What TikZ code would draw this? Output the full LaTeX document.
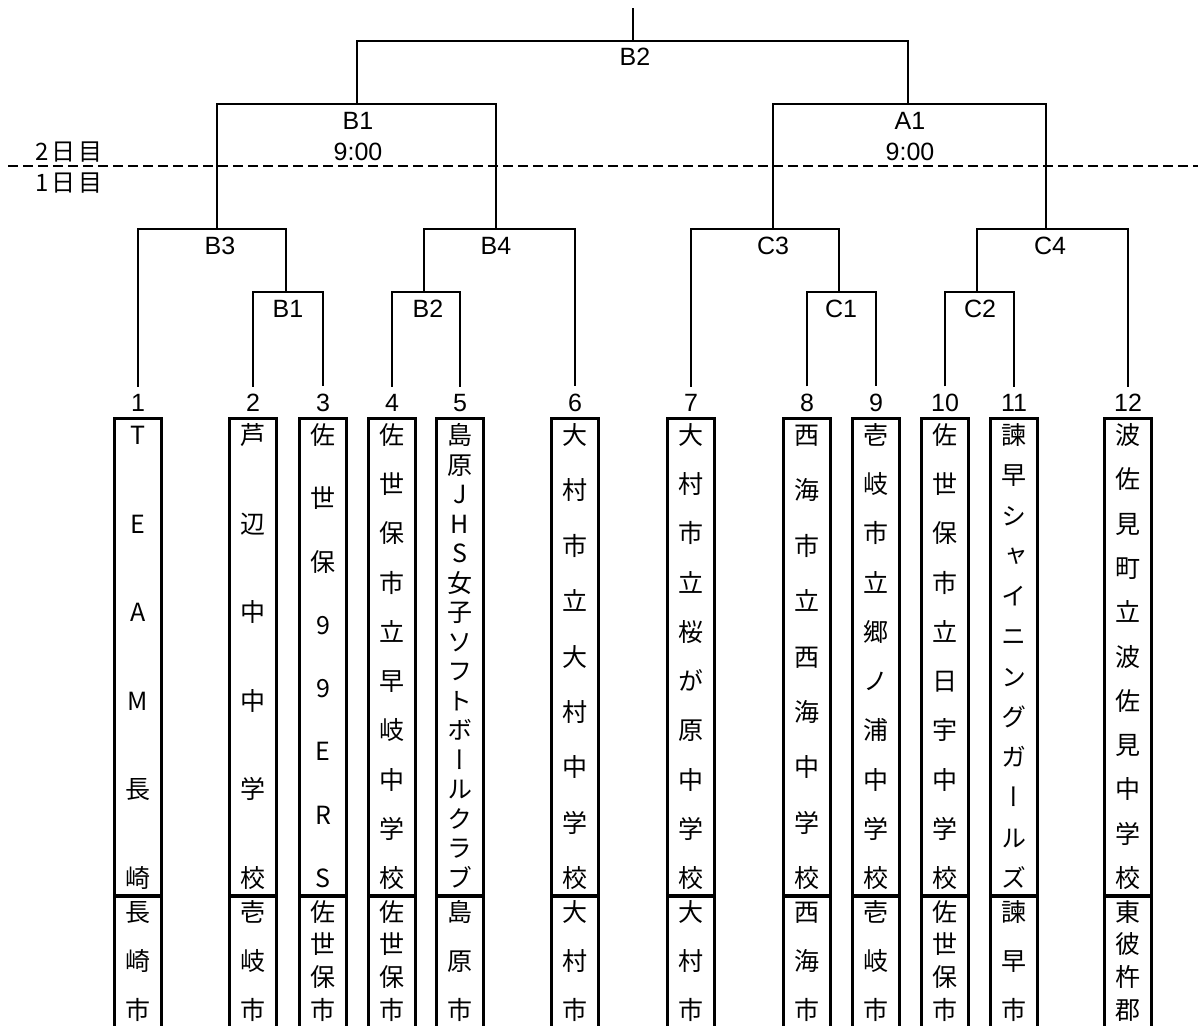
\documentclass[tikz,border=0pt]{standalone}
\usepackage{fontspec}
\setmainfont{Liberation Sans}
\newfontfamily\jpfont{Noto Sans CJK JP}
\newfontfamily\jpvfont[RawFeature=+vert]{Noto Sans CJK JP}
% vertical text spread over a given height, optional space below
\newcommand{\tate}[3][0pt]{\parbox[c][\dimexpr#2+#1\relax][s]{30pt}{\centering
  \jpvfont\fontsize{25}{25}\selectfont
  \foreach \ch [count=\k] in {#3}{\ifnum\k>1 \vfill\fi\rule[-0.12em]{0pt}{1em}\ch\par}%
  \vspace*{#1}}}

\begin{document}
\begin{tikzpicture}[x=1pt,y=-1pt,
  line/.style={line width=2pt},
  teambox/.style={draw,line width=3pt,minimum width=47pt,inner xsep=0pt,inner ysep=4.5pt},
  citybox/.style={draw,line width=3pt,minimum width=47pt,inner xsep=0pt,inner ysep=2.5pt,anchor=north},
  num/.style={font=\fontsize{25}{25}\selectfont,inner xsep=0pt,inner ysep=7.5pt},
  match/.style={font=\fontsize{25}{25}\selectfont,inner sep=0pt},
  day/.style={font=\jpfont\fontsize{24}{24}\selectfont,inner sep=0pt}]
  \useasboundingbox (0,0) rectangle (1198,1025);
  \clip (0,0) rectangle (1198,1025);

  % day border
  \coordinate (dl) at (8,166);
  \coordinate (dr) at (1198,166);
  \draw[line,dash pattern=on 10pt off 5pt] (dl) -- (dr);
  \node[day] (d2) at (69,152) {2\kern3pt 日\kern3pt 目};
  \node[day] (d1) at (69,183) {1\kern3pt 日\kern3pt 目};

  % team numbers
  \node[num] (n1) at (138,403) {1};
  \node[num] (n2) at (253,403) {2};
  \node[num] (n3) at (323,403) {3};
  \node[num] (n4) at (392,403) {4};
  \node[num] (n5) at (460,403) {5};
  \node[num] (n6) at (575,403) {6};
  \node[num] (n7) at (691,403) {7};
  \node[num] (n8) at (807,403) {8};
  \node[num] (n9) at (876,403) {9};
  \node[num] (n10) at (945,403) {10};
  \node[num] (n11) at (1014,403) {11};
  \node[num] (n12) at (1128,403) {12};

  % teams
  \node[teambox] (t1) at (138,656.5) {\tate{468pt}{T,E,A,M,長,崎}};
  \node[teambox] (t2) at (253,656.5) {\tate{468pt}{芦,辺,中,中,学,校}};
  \node[teambox] (t3) at (323,656.5) {\tate{468pt}{佐,世,保,9,9,E,R,S}};
  \node[teambox] (t4) at (392,656.5) {\tate{468pt}{佐,世,保,市,立,早,岐,中,学,校}};
  \node[teambox] (t5) at (460,656.5) {\tate{468pt}{島,原,J,H,S,女,子,ソ,フ,ト,ボ,ー,ル,ク,ラ,ブ}};
  \node[teambox] (t6) at (575,656.5) {\tate{468pt}{大,村,市,立,大,村,中,学,校}};
  \node[teambox] (t7) at (691,656.5) {\tate{468pt}{大,村,市,立,桜,が,原,中,学,校}};
  \node[teambox] (t8) at (807,656.5) {\tate{468pt}{西,海,市,立,西,海,中,学,校}};
  \node[teambox] (t9) at (876,656.5) {\tate{468pt}{壱,岐,市,立,郷,ノ,浦,中,学,校}};
  \node[teambox] (t10) at (945,656.5) {\tate{468pt}{佐,世,保,市,立,日,宇,中,学,校}};
  \node[teambox] (t11) at (1014,656.5) {\tate{468pt}{諫,早,シ,ャ,イ,ニ,ン,グ,ガ,ー,ル,ズ}};
  \node[teambox] (t12) at (1128,656.5) {\tate{468pt}{波,佐,見,町,立,波,佐,見,中,学,校}};

  % home towns
  \node[citybox] (c1) at (138,895) {\tate[40pt]{123pt}{長,崎,市}};
  \node[citybox] (c2) at (253,895) {\tate[40pt]{123pt}{壱,岐,市}};
  \node[citybox] (c3) at (323,895) {\tate[40pt]{123pt}{佐,世,保,市}};
  \node[citybox] (c4) at (392,895) {\tate[40pt]{123pt}{佐,世,保,市}};
  \node[citybox] (c5) at (460,895) {\tate[40pt]{123pt}{島,原,市}};
  \node[citybox] (c6) at (575,895) {\tate[40pt]{123pt}{大,村,市}};
  \node[citybox] (c7) at (691,895) {\tate[40pt]{123pt}{大,村,市}};
  \node[citybox] (c8) at (807,895) {\tate[40pt]{123pt}{西,海,市}};
  \node[citybox] (c9) at (876,895) {\tate[40pt]{123pt}{壱,岐,市}};
  \node[citybox] (c10) at (945,895) {\tate[40pt]{123pt}{佐,世,保,市}};
  \node[citybox] (c11) at (1014,895) {\tate[40pt]{123pt}{諫,早,市}};
  \node[citybox] (c12) at (1128,895) {\tate[40pt]{123pt}{東,彼,杵,郡}};

  % match labels
  \node[match] (mB2) at (635,57) {B2};
  \node[match] (mB1) at (358,121) {B1};
  \node[match] (tB1) at (358,152) {9:00};
  \node[match] (mA1) at (910,121) {A1};
  \node[match] (tA1) at (910,152) {9:00};
  \node[match] (mB3) at (220,246) {B3};
  \node[match] (mB4) at (496,246) {B4};
  \node[match] (mC3) at (773,246) {C3};
  \node[match] (mC4) at (1050,246) {C4};
  \node[match] (mB1a) at (288,309) {B1};
  \node[match] (mB2a) at (428,309) {B2};
  \node[match] (mC1) at (841,309) {C1};
  \node[match] (mC2) at (980,309) {C2};

  % bracket junctions
  \coordinate (jEnd) at (633,8);
  \coordinate (jTop) at (633,41);
  \coordinate (jB1) at (357,104);
  \coordinate (jA1) at (908,104);
  \coordinate (jB3) at (217,229);
  \coordinate (jB4) at (496,229);
  \coordinate (jC3) at (773,229);
  \coordinate (jC4) at (1046,229);
  \coordinate (jB1a) at (286,292);
  \coordinate (jB2a) at (424,292);
  \coordinate (jC1) at (839,292);
  \coordinate (jC2) at (977,292);

  % brackets
  \draw[line] (n2) |- (jB1a) -| (n3);
  \draw[line] (n4) |- (jB2a) -| (n5);
  \draw[line] (n1) |- (jB3) -| (jB1a);
  \draw[line] (jB2a) |- (jB4) -| (n6);
  \draw[line] (n8) |- (jC1) -| (n9);
  \draw[line] (n10) |- (jC2) -| (n11);
  \draw[line] (n7) |- (jC3) -| (jC1);
  \draw[line] (jC2) |- (jC4) -| (n12);
  \draw[line] (jB3) |- (jB1) -| (jB4);
  \draw[line] (jC3) |- (jA1) -| (jC4);
  \draw[line] (jB1) |- (jTop) -| (jA1);
  \draw[line] (jTop) -- (jEnd);
\end{tikzpicture}
\end{document}
